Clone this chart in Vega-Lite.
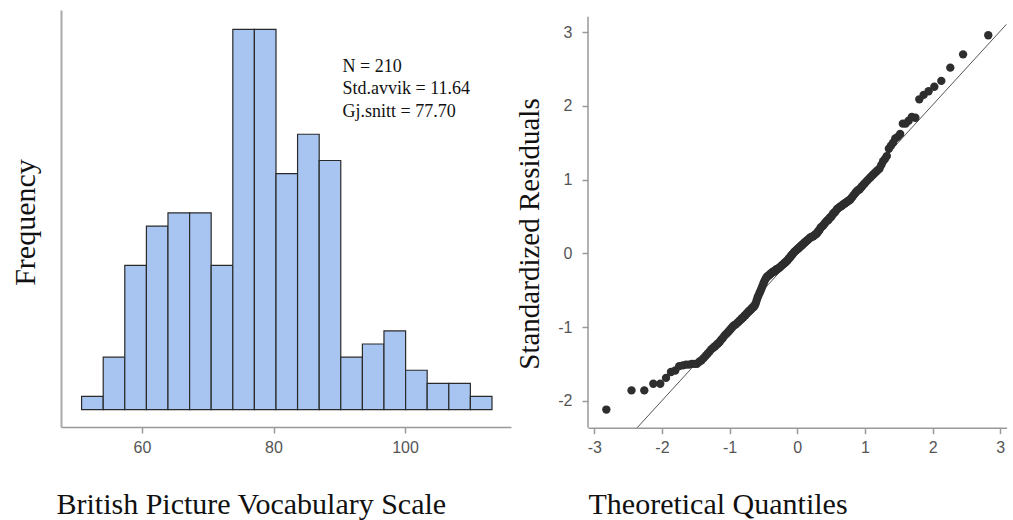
{
  "$schema": "https://vega.github.io/schema/vega-lite/v6.json",
  "background": "white",
  "padding": {"left": 10, "top": 10, "right": 3, "bottom": 0},
  "spacing": 4,
  "config": {
    "view": {"stroke": null},
    "axis": {
      "grid": false,
      "labelFont": "Liberation Sans",
      "labelFontSize": 16,
      "labelColor": "#555",
      "domainColor": "#999",
      "tickColor": "#999",
      "domainWidth": 1.5,
      "tickWidth": 1.5,
      "titleFont": "Liberation Serif",
      "titleFontSize": 30,
      "titleFontWeight": "normal",
      "titleColor": "#111"
    }
  },
  "datasets": {
    "hist": [
      {"bin_start": 50.81, "bin_end": 54.10, "count": 1},
      {"bin_start": 54.10, "bin_end": 57.38, "count": 4},
      {"bin_start": 57.38, "bin_end": 60.67, "count": 11},
      {"bin_start": 60.67, "bin_end": 63.95, "count": 14},
      {"bin_start": 63.95, "bin_end": 67.24, "count": 15},
      {"bin_start": 67.24, "bin_end": 70.52, "count": 15},
      {"bin_start": 70.52, "bin_end": 73.81, "count": 11},
      {"bin_start": 73.81, "bin_end": 77.09, "count": 29},
      {"bin_start": 77.09, "bin_end": 80.38, "count": 29},
      {"bin_start": 80.38, "bin_end": 83.66, "count": 18},
      {"bin_start": 83.66, "bin_end": 86.95, "count": 21},
      {"bin_start": 86.95, "bin_end": 90.23, "count": 19},
      {"bin_start": 90.23, "bin_end": 93.52, "count": 4},
      {"bin_start": 93.52, "bin_end": 96.80, "count": 5},
      {"bin_start": 96.80, "bin_end": 100.09, "count": 6},
      {"bin_start": 100.09, "bin_end": 103.37, "count": 3},
      {"bin_start": 103.37, "bin_end": 106.66, "count": 2},
      {"bin_start": 106.66, "bin_end": 109.94, "count": 2},
      {"bin_start": 109.94, "bin_end": 113.23, "count": 1}
    ],
    "stats": [
      {"x": 90.5, "y": 26.15, "label": "N = 210"},
      {"x": 90.5, "y": 24.43, "label": "Std.avvik = 11.64"},
      {"x": 90.5, "y": 22.72, "label": "Gj.snitt = 77.70"}
    ],
    "axisline": [
      {"x": -3.093, "y1": -2.366, "y2": 3.21}
    ],
    "refline": [
      {"q": -2.40, "r": -2.40},
      {"q": 3.093, "r": 3.11}
    ],
    "qq": [
      {"q":-2.822,"r":-2.12},{"q":-2.450,"r":-1.86},{"q":-2.261,"r":-1.86},{"q":-2.128,"r":-1.77},{"q":-2.025,"r":-1.77},
      {"q":-1.940,"r":-1.69},{"q":-1.867,"r":-1.61},{"q":-1.803,"r":-1.59},{"q":-1.745,"r":-1.53},{"q":-1.692,"r":-1.52},
      {"q":-1.645,"r":-1.51},{"q":-1.601,"r":-1.51},{"q":-1.559,"r":-1.50},{"q":-1.520,"r":-1.50},{"q":-1.483,"r":-1.50},
      {"q":-1.448,"r":-1.47},{"q":-1.415,"r":-1.45},{"q":-1.383,"r":-1.42},{"q":-1.353,"r":-1.39},{"q":-1.323,"r":-1.36},
      {"q":-1.295,"r":-1.33},{"q":-1.268,"r":-1.30},{"q":-1.242,"r":-1.28},{"q":-1.216,"r":-1.26},{"q":-1.192,"r":-1.24},
      {"q":-1.168,"r":-1.22},{"q":-1.145,"r":-1.20},{"q":-1.122,"r":-1.17},{"q":-1.100,"r":-1.15},{"q":-1.079,"r":-1.12},
      {"q":-1.058,"r":-1.10},{"q":-1.036,"r":-1.08},{"q":-1.016,"r":-1.06},{"q":-0.996,"r":-1.04},{"q":-0.977,"r":-1.02},
      {"q":-0.958,"r":-1.00},{"q":-0.939,"r":-0.98},{"q":-0.921,"r":-0.97},{"q":-0.903,"r":-0.96},{"q":-0.885,"r":-0.94},
      {"q":-0.867,"r":-0.93},{"q":-0.850,"r":-0.91},{"q":-0.833,"r":-0.90},{"q":-0.817,"r":-0.88},{"q":-0.800,"r":-0.87},
      {"q":-0.784,"r":-0.85},{"q":-0.767,"r":-0.84},{"q":-0.752,"r":-0.82},{"q":-0.736,"r":-0.81},{"q":-0.720,"r":-0.79},
      {"q":-0.705,"r":-0.78},{"q":-0.690,"r":-0.77},{"q":-0.674,"r":-0.75},{"q":-0.660,"r":-0.74},{"q":-0.645,"r":-0.73},
      {"q":-0.630,"r":-0.71},{"q":-0.615,"r":-0.68},{"q":-0.601,"r":-0.64},{"q":-0.587,"r":-0.60},{"q":-0.573,"r":-0.57},
      {"q":-0.559,"r":-0.54},{"q":-0.545,"r":-0.51},{"q":-0.531,"r":-0.48},{"q":-0.518,"r":-0.45},{"q":-0.504,"r":-0.42},
      {"q":-0.491,"r":-0.39},{"q":-0.477,"r":-0.36},{"q":-0.464,"r":-0.34},{"q":-0.451,"r":-0.32},{"q":-0.438,"r":-0.31},
      {"q":-0.424,"r":-0.30},{"q":-0.411,"r":-0.29},{"q":-0.398,"r":-0.28},{"q":-0.385,"r":-0.27},{"q":-0.373,"r":-0.26},
      {"q":-0.360,"r":-0.25},{"q":-0.347,"r":-0.25},{"q":-0.335,"r":-0.24},{"q":-0.322,"r":-0.23},{"q":-0.310,"r":-0.22},
      {"q":-0.297,"r":-0.21},{"q":-0.285,"r":-0.21},{"q":-0.273,"r":-0.20},{"q":-0.260,"r":-0.19},{"q":-0.248,"r":-0.18},
      {"q":-0.236,"r":-0.17},{"q":-0.223,"r":-0.16},{"q":-0.211,"r":-0.15},{"q":-0.199,"r":-0.14},{"q":-0.187,"r":-0.13},
      {"q":-0.175,"r":-0.12},{"q":-0.163,"r":-0.11},{"q":-0.151,"r":-0.10},{"q":-0.139,"r":-0.09},{"q":-0.126,"r":-0.07},
      {"q":-0.114,"r":-0.06},{"q":-0.102,"r":-0.05},{"q":-0.090,"r":-0.03},{"q":-0.078,"r":-0.02},{"q":-0.066,"r":-0.01},
      {"q":-0.054,"r":0.01},{"q":-0.042,"r":0.02},{"q":-0.030,"r":0.03},{"q":-0.018,"r":0.04},{"q":-0.006,"r":0.05},
      {"q":0.006,"r":0.06},{"q":0.018,"r":0.07},{"q":0.030,"r":0.08},{"q":0.042,"r":0.09},{"q":0.054,"r":0.10},
      {"q":0.066,"r":0.11},{"q":0.078,"r":0.12},{"q":0.090,"r":0.13},{"q":0.102,"r":0.14},{"q":0.114,"r":0.15},
      {"q":0.126,"r":0.16},{"q":0.139,"r":0.17},{"q":0.151,"r":0.18},{"q":0.163,"r":0.19},{"q":0.175,"r":0.20},
      {"q":0.187,"r":0.21},{"q":0.199,"r":0.22},{"q":0.211,"r":0.22},{"q":0.223,"r":0.23},{"q":0.236,"r":0.23},
      {"q":0.248,"r":0.24},{"q":0.260,"r":0.25},{"q":0.273,"r":0.26},{"q":0.285,"r":0.27},{"q":0.297,"r":0.28},
      {"q":0.310,"r":0.30},{"q":0.322,"r":0.31},{"q":0.335,"r":0.33},{"q":0.347,"r":0.35},{"q":0.360,"r":0.36},
      {"q":0.373,"r":0.37},{"q":0.385,"r":0.38},{"q":0.398,"r":0.40},{"q":0.411,"r":0.41},{"q":0.424,"r":0.43},
      {"q":0.438,"r":0.44},{"q":0.451,"r":0.45},{"q":0.464,"r":0.46},{"q":0.477,"r":0.48},{"q":0.491,"r":0.49},
      {"q":0.504,"r":0.50},{"q":0.518,"r":0.52},{"q":0.531,"r":0.54},{"q":0.545,"r":0.55},{"q":0.559,"r":0.56},
      {"q":0.573,"r":0.58},{"q":0.587,"r":0.60},{"q":0.601,"r":0.61},{"q":0.615,"r":0.62},{"q":0.630,"r":0.63},
      {"q":0.645,"r":0.64},{"q":0.660,"r":0.65},{"q":0.674,"r":0.66},{"q":0.690,"r":0.67},{"q":0.705,"r":0.68},
      {"q":0.720,"r":0.69},{"q":0.736,"r":0.70},{"q":0.752,"r":0.71},{"q":0.767,"r":0.72},{"q":0.784,"r":0.73},
      {"q":0.800,"r":0.75},{"q":0.817,"r":0.77},{"q":0.833,"r":0.79},{"q":0.850,"r":0.81},{"q":0.867,"r":0.83},
      {"q":0.885,"r":0.85},{"q":0.903,"r":0.86},{"q":0.921,"r":0.87},{"q":0.939,"r":0.89},{"q":0.958,"r":0.91},
      {"q":0.977,"r":0.93},{"q":0.996,"r":0.95},{"q":1.016,"r":0.97},{"q":1.036,"r":0.99},{"q":1.058,"r":1.01},
      {"q":1.079,"r":1.03},{"q":1.100,"r":1.05},{"q":1.122,"r":1.07},{"q":1.145,"r":1.09},{"q":1.168,"r":1.11},
      {"q":1.192,"r":1.13},{"q":1.216,"r":1.15},{"q":1.242,"r":1.20},{"q":1.268,"r":1.25},{"q":1.295,"r":1.28},
      {"q":1.323,"r":1.32},{"q":1.353,"r":1.42},{"q":1.383,"r":1.46},{"q":1.415,"r":1.50},{"q":1.448,"r":1.56},
      {"q":1.483,"r":1.58},{"q":1.520,"r":1.62},{"q":1.559,"r":1.76},{"q":1.601,"r":1.76},{"q":1.645,"r":1.80},
      {"q":1.692,"r":1.85},{"q":1.745,"r":1.84},{"q":1.803,"r":2.09},{"q":1.867,"r":2.15},{"q":1.940,"r":2.20},
      {"q":2.025,"r":2.26},{"q":2.128,"r":2.34},{"q":2.261,"r":2.52},{"q":2.450,"r":2.70},{"q":2.822,"r":2.96}
    ]
  },
  "hconcat": [
    {
      "width": 450,
      "height": 417,
      "layer": [
        {
          "data": {"name": "hist"},
          "mark": {"type": "bar", "fill": "#a7c5f0", "stroke": "#2a2a2a", "strokeWidth": 1.2},
          "encoding": {
            "x": {
              "field": "bin_start", "type": "quantitative",
              "scale": {"domain": [47.68, 116.12], "nice": false, "zero": false},
              "axis": {
                "values": [60, 80, 100],
                "title": "British Picture Vocabulary Scale",
                "titleAnchor": "start", "titleAlign": "left",
                "titleX": -5, "titleY": 86.3, "titleBaseline": "alphabetic",
                "tickSize": 6, "labelPadding": 6
              }
            },
            "x2": {"field": "bin_end"},
            "y": {
              "field": "count", "type": "quantitative",
              "scale": {"domain": [-1.33, 30.48], "nice": false, "zero": false},
              "axis": {
                "title": "Frequency", "labels": false, "ticks": false,
                "titleX": -27, "titleY": 212, "titleAngle": -90,
                "titleAlign": "center", "titleBaseline": "alphabetic",
                "domainWidth": 2, "domainColor": "#aaa"
              }
            },
            "y2": {"datum": 0}
          }
        },
        {
          "data": {"name": "stats"},
          "mark": {"type": "text", "align": "left", "baseline": "middle", "font": "Liberation Serif", "fontSize": 18, "color": "#111"},
          "encoding": {
            "x": {"field": "x", "type": "quantitative"},
            "y": {"field": "y", "type": "quantitative"},
            "text": {"field": "label"}
          }
        }
      ]
    },
    {
      "width": 418.6,
      "height": 417.7,
      "layer": [
        {
          "data": {"name": "axisline"},
          "mark": {"type": "rule", "color": "#999", "strokeWidth": 1.5},
          "encoding": {
            "x": {
              "field": "x", "type": "quantitative",
              "scale": {"domain": [-3.093, 3.093], "nice": false, "zero": false},
              "axis": {
                "values": [-3, -2, -1, 0, 1, 2, 3],
                "labelExpr": "'' + datum.value",
                "title": "Theoretical Quantiles",
                "titleAnchor": "start", "titleAlign": "left",
                "titleX": 0, "titleY": 85.3, "titleBaseline": "alphabetic",
                "tickSize": 6, "labelPadding": 6
              }
            },
            "y": {
              "field": "y1", "type": "quantitative",
              "scale": {"domain": [-2.366, 3.302], "nice": false, "zero": false},
              "axis": {
                "values": [-2, -1, 0, 1, 2, 3],
                "labelExpr": "'' + datum.value",
                "domain": false,
                "title": "Standardized Residuals",
                "titleFontSize": 29,
                "titleX": -49.7, "titleY": 223.5, "titleAngle": -90,
                "titleAlign": "center", "titleBaseline": "alphabetic",
                "tickSize": 6, "labelPadding": 10
              }
            },
            "y2": {"field": "y2"}
          }
        },
        {
          "data": {"name": "refline"},
          "mark": {"type": "line", "color": "#555", "strokeWidth": 1, "clip": true},
          "encoding": {
            "x": {"field": "q", "type": "quantitative"},
            "y": {"field": "r", "type": "quantitative"}
          }
        },
        {
          "data": {"name": "qq"},
          "mark": {"type": "circle", "size": 70, "color": "#2e2e2e", "opacity": 1},
          "encoding": {
            "x": {"field": "q", "type": "quantitative"},
            "y": {"field": "r", "type": "quantitative"}
          }
        }
      ]
    }
  ]
}
